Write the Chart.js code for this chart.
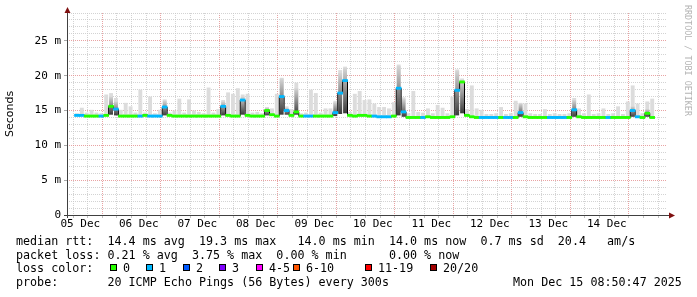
<!DOCTYPE html>
<html>
<head>
<meta charset="utf-8">
<script src="https://cdn.jsdelivr.net/npm/chart.js@4.4.1/dist/chart.umd.min.js"></script>
<style>
body { margin: 0; background: #fff; }
#wrap { position: relative; width: 697px; height: 297px; overflow: hidden; background: #fff; }
#wrap canvas { position: absolute; left: 0; top: 0; }
.txt { position: absolute; font-family: 'DejaVu Sans Mono', monospace; font-size: 11.7px; line-height: 14px; white-space: pre; color: #000; }
.box { position: absolute; width: 5px; height: 5px; border: 1px solid #000; }
#credit { position: absolute; left: 683px; top: 5px; font-family: 'DejaVu Sans Mono', monospace; font-size: 8.4px; line-height: 9px; color: #b4b4b4; writing-mode: vertical-rl; white-space: pre; }
</style>
</head>
<body>
<div id="wrap">
  <canvas id="ping_chart" width="697" height="297"></canvas>
  <div id="credit">RRDTOOL / TOBI OETIKER</div>
  <div class="txt" style="left:16px;top:234px">median rtt:  14.4 ms avg  19.3 ms max   14.0 ms min  14.0 ms now  0.7 ms sd  20.4   am/s</div>
  <div class="txt" style="left:16px;top:248px">packet loss: 0.21 % avg  3.75 % max  0.00 % min      0.00 % now</div>
  <div class="txt" style="left:16px;top:261px">loss color:</div>
  <div id="loss_legend"></div>
  <div class="txt" style="left:16px;top:275px">probe:       20 ICMP Echo Pings (56 Bytes) every 300s</div>
  <div class="txt" style="left:513px;top:275px">Mon Dec 15 08:50:47 2025</div>
</div>
<script>
// 10 days, one bin = 2 hours (ms)
const median = [
  14.3, 14.3, 14.2, 14.2, 14.2, 14.2, 14.3, 15.6, 15.2, 14.2,
  14.2, 14.2, 14.2, 14.2, 14.3, 14.2, 14.2, 14.2, 15.5, 14.3,
  14.2, 14.2, 14.2, 14.2, 14.2, 14.2, 14.2, 14.2, 14.2, 14.2,
  15.6, 14.3, 14.2, 14.2, 16.5, 14.3, 14.2, 14.2, 14.2, 15.0,
  14.4, 14.2, 17.0, 15.0, 14.3, 14.8, 14.2, 14.2, 14.2, 14.2,
  14.2, 14.2, 14.2, 14.7, 17.5, 19.3, 14.3, 14.2, 14.3, 14.3,
  14.2, 14.2, 14.1, 14.1, 14.1, 14.2, 18.2, 14.8, 14.0, 14.0,
  14.0, 14.0, 14.1, 14.0, 14.0, 14.0, 14.0, 14.1, 17.9, 19.1,
  14.3, 14.1, 14.0, 14.0, 14.0, 14.0, 14.0, 14.0, 14.0, 14.0,
  14.0, 14.7, 14.1, 14.0, 14.0, 14.0, 14.0, 14.0, 14.0, 14.0,
  14.0, 14.0, 15.1, 14.1, 14.0, 14.0, 14.0, 14.0, 14.0, 14.0,
  14.0, 14.0, 14.0, 14.0, 15.0, 14.1, 14.0, 14.6, 14.0, null
];
// lost pings (of 20) per bin
const loss = [
  1, 1, 0, 0, 0, 1, 0, 0, 1, 0,
  0, 0, 0, 1, 0, 1, 1, 1, 1, 0,
  0, 0, 0, 0, 0, 0, 0, 0, 0, 0,
  1, 0, 0, 0, 1, 0, 0, 0, 0, 0,
  0, 0, 1, 1, 0, 0, 0, 1, 1, 0,
  0, 0, 0, 1, 1, 1, 0, 0, 0, 0,
  0, 1, 1, 1, 1, 0, 1, 1, 0, 0,
  0, 1, 0, 0, 0, 0, 0, 0, 1, 0,
  0, 0, 0, 1, 1, 1, 1, 0, 1, 1,
  0, 1, 0, 0, 0, 0, 0, 1, 1, 1,
  1, 0, 1, 0, 0, 0, 0, 0, 0, 1,
  0, 0, 0, 0, 1, 1, 0, 0, 0, 0
];
// highest ping (light smoke top)
const smokeHi = [
  14.6, 15.4, 14.7, 15.1, 14.7, 14.6, 17.3, 17.5, 16.8, 15.1,
  16.1, 15.6, 14.7, 18.0, 14.7, 17.0, 14.6, 15.1, 16.6, 14.7,
  15.0, 16.7, 14.7, 16.6, 15.0, 14.8, 14.6, 18.3, 14.7, 15.2,
  16.5, 17.6, 17.4, 18.2, 17.3, 17.4, 14.7, 14.8, 14.6, 15.5,
  15.3, 17.4, 19.7, 15.6, 15.2, 19.0, 14.6, 14.7, 18.0, 17.5,
  14.7, 15.3, 15.3, 16.4, 20.8, 21.3, 14.8, 17.4, 17.8, 16.5,
  16.6, 16.0, 15.5, 15.5, 15.3, 16.2, 21.6, 16.9, 14.6, 17.8,
  14.8, 14.7, 15.3, 14.6, 15.8, 15.4, 14.6, 17.0, 20.9, 19.6,
  15.2, 18.6, 15.3, 15.1, 14.5, 14.5, 14.6, 15.5, 14.5, 14.6,
  16.4, 16.1, 16.0, 14.6, 14.5, 14.5, 15.2, 14.5, 14.6, 14.5,
  14.5, 14.6, 16.8, 15.3, 14.6, 17.3, 14.5, 14.6, 15.3, 14.5,
  14.6, 15.6, 14.5, 16.3, 18.6, 16.0, 14.6, 16.3, 16.7, null
];
// dense smoke [low, high] where the pings spread out
const smokeDark = [
  null, null, null, null, null, null, null, [14.4, 17.0], [14.3, 16.3], null,
  null, null, null, null, null, null, null, null, [14.3, 16.4], null,
  null, null, null, null, null, null, null, null, null, null,
  [14.3, 16.3], null, null, null, [14.4, 17.0], null, null, null, null, [14.3, 15.4],
  null, null, [14.4, 19.6], [14.4, 15.4], null, [14.4, 18.2], null, null, null, null,
  null, null, null, [14.2, 16.2], [14.5, 20.4], [14.6, 21.1], null, null, null, null,
  null, null, null, null, null, null, [14.3, 21.4], [14.1, 16.7], null, null,
  null, null, null, null, null, null, null, null, [14.3, 20.7], [14.6, 19.4],
  null, null, null, null, null, null, null, null, null, null,
  null, [14.1, 16.0], null, null, null, null, null, null, null, null,
  null, null, [14.1, 16.5], null, null, null, null, null, null, null,
  null, null, null, null, [14.1, 15.6], null, null, [14.1, 15.2], null, null
];
const dayLabels = ['05 Dec', '06 Dec', '07 Dec', '08 Dec', '09 Dec', '10 Dec', '11 Dec', '12 Dec', '13 Dec', '14 Dec'];
const lossLabels = ['0', '1', '2', '3', '4-5', '6-10', '11-19', '20/20'];
const lossColors = ['#26ff00', '#00b8ff', '#0059ff', '#7e00ff', '#ff00ff', '#ff5500', '#ff0000', '#a10000'];

// 로스 색상 범례
const lossBoxX = [110, 146, 183, 219, 256, 293, 365, 430];
const legend = document.getElementById('loss_legend');
lossLabels.forEach(function(label, i){
  let box = document.createElement('div');
  box.className = 'box';
  box.style.left = lossBoxX[i] + 'px';
  box.style.top = '264px';
  box.style.background = lossColors[i];
  legend.appendChild(box);
  let txt = document.createElement('div');
  txt.className = 'txt';
  txt.style.left = (lossBoxX[i] + 13) + 'px';
  txt.style.top = '261px';
  txt.textContent = label;
  legend.appendChild(txt);
});

const binX = median.map((m, i) => 2 * i + 1);   // hours since graph start

const majorRed = 'rgba(226,140,140,0.8)';
const minorGrey = 'rgba(200,200,200,0.8)';

// 축 + 화살표
const axisArrows = {
  id: 'axisArrows',
  afterDraw(chart) {
    const ctx = chart.ctx;
    const a = chart.chartArea;
    ctx.save();
    ctx.strokeStyle = '#404040';
    ctx.lineWidth = 1;
    ctx.beginPath();
    ctx.moveTo(a.left - 3, a.bottom + 0.5);
    ctx.lineTo(a.right + 2, a.bottom + 0.5);
    ctx.moveTo(a.left + 0.5, a.bottom + 3);
    ctx.lineTo(a.left + 0.5, a.top - 1);
    ctx.stroke();
    ctx.fillStyle = '#7f1010';
    ctx.beginPath();
    ctx.moveTo(a.left + 0.5, a.top - 6);
    ctx.lineTo(a.left - 2.5, a.top);
    ctx.lineTo(a.left + 3.5, a.top);
    ctx.closePath();
    ctx.fill();
    ctx.beginPath();
    ctx.moveTo(a.right + 8, a.bottom + 0.5);
    ctx.lineTo(a.right + 2, a.bottom - 2.5);
    ctx.lineTo(a.right + 2, a.bottom + 3.5);
    ctx.closePath();
    ctx.fill();
    ctx.restore();
  }
};

Chart.defaults.color = '#000';
Chart.defaults.font.family = "'DejaVu Sans Mono', monospace";
Chart.defaults.font.size = 11;

const pingChart = new Chart(document.getElementById('ping_chart'), {
  data: {
    datasets: [
      {
        type: 'bar',
        label: 'median',
        order: 1,
        grouped: false,
        barPercentage: 1,
        categoryPercentage: 1,
        data: median.map((m, i) => ({x: binX[i], y: m === null ? null : [m - 0.16, m + 0.16]})),
        backgroundColor: c => lossColors[loss[c.dataIndex]] || lossColors[0],
        borderWidth: 0
      },
      {
        type: 'line',
        label: 'median step',
        order: 2,
        data: median.map((m, i) => ({x: binX[i], y: m})),
        stepped: 'middle',
        borderColor: '#000',
        borderWidth: 1,
        pointRadius: 0,
        fill: false
      },
      {
        type: 'bar',
        label: 'dense smoke',
        order: 3,
        grouped: false,
        barPercentage: 0.8,
        categoryPercentage: 1,
        data: smokeDark.map((s, i) => ({x: binX[i], y: s})),
        backgroundColor: function(c){
          const v = c.raw;
          if (!v || !v.y) return '#999';
          const y = c.chart.scales.y;
          const g = c.chart.ctx.createLinearGradient(0, y.getPixelForValue(v.y[0]), 0, y.getPixelForValue(v.y[1]));
          g.addColorStop(0, '#3a3a3a');
          g.addColorStop(0.5, '#8a8a8a');
          g.addColorStop(1, '#d6d6d6');
          return g;
        },
        borderWidth: 0
      },
      {
        type: 'bar',
        label: 'smoke',
        order: 4,
        grouped: false,
        barPercentage: 0.8,
        categoryPercentage: 1,
        data: smokeHi.map((s, i) => ({x: binX[i], y: s === null ? null : [median[i], s]})),
        backgroundColor: '#dcdcdc',
        borderWidth: 0
      }
    ]
  },
  options: {
    responsive: false,
    animation: false,
    devicePixelRatio: 1,
    layout: {padding: {left: 0, right: 30, top: 13, bottom: 65}},
    plugins: {legend: {display: false}, tooltip: {enabled: false}},
    scales: {
      x: {
        type: 'linear',
        min: 0,
        max: 240,
        afterBuildTicks: function(scale){
          let t = [];
          for (let k = 0; 2.4 + 6 * k < 240; k++) t.push({value: 2.4 + 6 * k});
          scale.ticks = t;
        },
        afterFit: function(scale){ scale.height = 17; },
        ticks: {
          autoSkip: false,
          maxRotation: 0,
          padding: 0,
          callback: (v, i) => (i % 4 === 0 ? dayLabels[i / 4] : '')
        },
        grid: {
          color: c => (c.index % 4 === 2 ? majorRed : minorGrey),
          tickColor: '#c0c0c0',
          tickLength: 3,
          lineWidth: 1
        },
        border: {display: false, dash: [1, 1]}
      },
      y: {
        min: 0,
        max: 29,
        afterFit: function(scale){ scale.width = 67; },
        ticks: {
          stepSize: 1,
          autoSkip: false,
          padding: 3,
          callback: v => (v % 5 === 0 ? (v === 0 ? '0' : v + ' m') : '')
        },
        grid: {
          color: c => (c.tick && c.tick.value % 5 === 0 ? majorRed : minorGrey),
          tickColor: c => (c.tick && c.tick.value % 5 === 0 ? '#aaa' : 'rgba(0,0,0,0)'),
          tickLength: 3,
          lineWidth: 1
        },
        border: {display: false, dash: [1, 1]},
        title: {
          display: true,
          text: 'Seconds',
          font: {family: "'DejaVu Sans', sans-serif", size: 11},
          padding: {top: 4, bottom: 0}
        }
      }
    }
  },
  plugins: [axisArrows]
});
</script>
</body>
</html>
